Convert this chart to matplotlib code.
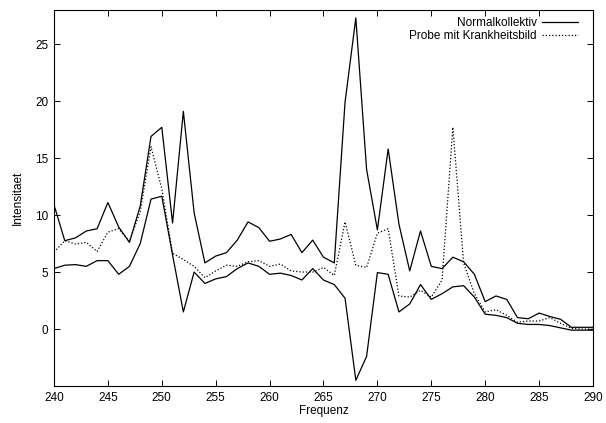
import matplotlib
matplotlib.use("Agg")
import matplotlib.pyplot as plt
import numpy as np

plt.rcParams['font.family'] = ['Liberation Sans', 'DejaVu Sans']

# Frequenzen
freq = list(range(240, 291))

# Normalkollektiv, obere Grenze
normal_oben = [10.9, 7.75, 8.0, 8.6, 8.8, 11.1, 8.95, 7.6, 10.8, 16.9,
               17.7, 9.3, 19.1, 10.2, 5.8, 6.4, 6.7, 7.8, 9.4, 8.9,
               7.7, 7.9, 8.3, 6.7, 7.8, 6.3, 5.8, 19.9, 27.3, 14.0,
               8.7, 15.8, 9.2, 5.1, 8.6, 5.5, 5.3, 6.3, 5.9, 4.8,
               2.4, 2.9, 2.6, 1.0, 0.9, 1.4, 1.1, 0.85, 0.15, 0.15, 0.15]

# Normalkollektiv, untere Grenze
normal_unten = [5.3, 5.6, 5.65, 5.5, 6.0, 6.0, 4.8, 5.5, 7.5, 11.4,
                11.65, 6.5, 1.5, 5.0, 4.0, 4.4, 4.6, 5.3, 5.8, 5.5,
                4.8, 4.9, 4.7, 4.3, 5.3, 4.3, 3.9, 2.7, -4.5, -2.4,
                4.95, 4.8, 1.5, 2.2, 3.9, 2.6, 3.1, 3.7, 3.8, 2.8,
                1.3, 1.2, 1.0, 0.5, 0.4, 0.4, 0.3, 0.1, -0.1, -0.1, -0.1]

# Probe mit Krankheitsbild
probe = [6.75, 7.75, 7.45, 7.6, 6.8, 8.5, 8.8, 7.7, 10.3, 16.0,
         12.3, 6.65, 6.1, 5.5, 4.5, 5.1, 5.6, 5.5, 5.9, 6.0,
         5.5, 5.7, 5.1, 5.0, 5.0, 5.4, 4.7, 9.4, 5.6, 5.4,
         8.4, 8.8, 2.9, 2.8, 3.4, 2.8, 4.3, 17.7, 5.8, 3.1,
         1.5, 1.7, 1.2, 0.6, 0.7, 0.7, 1.0, 0.5, 0.05, 0.0, 0.0]

fig = plt.figure(figsize=(6.06, 4.23), dpi=100)
ax = fig.add_axes([0.0891, 0.0875, 0.8894, 0.889])

ax.plot(freq, normal_oben, color='black', lw=0.9, label='Normalkollektiv')
ax.plot(freq, normal_unten, color='black', lw=0.9)
ax.plot(freq, probe, color='black', lw=0.9, linestyle=(0, (1, 1.6)),
        label='Probe mit Krankheitsbild')

ax.set_xlim(240, 290)
ax.set_ylim(-5, 28)
ax.set_xticks(np.arange(240, 291, 5))
ax.set_yticks(np.arange(0, 26, 5))
ax.tick_params(direction='in', top=True, right=True, labelsize=8.5,
               length=4, width=0.7, pad=4)
for s in ax.spines.values():
    s.set_linewidth(0.8)

ax.set_xlabel('Frequenz', fontsize=8.5, labelpad=1)
ax.set_ylabel('Intensitaet', fontsize=8.5, labelpad=8)

ax.legend(loc='upper right', bbox_to_anchor=(0.972, 0.982), frameon=False,
          markerfirst=False, fontsize=8.5, handlelength=3.0,
          handletextpad=0.5, labelspacing=0.15, borderaxespad=0,
          borderpad=0)

fig.savefig('out.png', dpi=100)
